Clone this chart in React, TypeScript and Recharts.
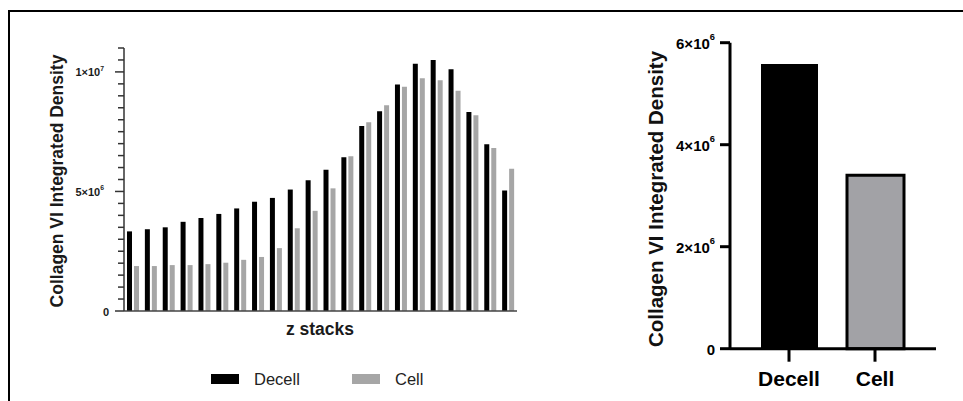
import React from 'react';
import { BarChart, Bar, XAxis, YAxis, Legend, Cell } from 'recharts';

const FONT = '"Liberation Sans", Arial, Helvetica, sans-serif';

const zStacks = ['1', '2', '3', '4', '5', '6', '7', '8', '9', '10', '11', '12', '13', '14', '15', '16', '17', '18', '19', '20', '21', '22'];
const decellValues = [3.33e6, 3.42e6, 3.5e6, 3.73e6, 3.89e6, 4.06e6, 4.29e6, 4.57e6, 4.73e6, 5.08e6, 5.47e6, 5.91e6, 6.43e6, 7.74e6, 8.35e6, 9.47e6, 10.34e6, 10.5e6, 10.11e6, 8.32e6, 6.97e6, 5.04e6];
const cellValues = [1.88e6, 1.88e6, 1.92e6, 1.92e6, 1.96e6, 2.02e6, 2.14e6, 2.26e6, 2.63e6, 3.46e6, 4.19e6, 5.13e6, 6.47e6, 7.89e6, 8.61e6, 9.38e6, 9.74e6, 9.65e6, 9.21e6, 8.19e6, 6.82e6, 5.95e6];
const leftTicks = [0, 5e5, 1e6, 1.5e6, 2e6, 2.5e6, 3e6, 3.5e6, 4e6, 4.5e6, 5e6, 5.5e6, 6e6, 6.5e6, 7e6, 7.5e6, 8e6, 8.5e6, 9e6, 9.5e6, 1e7, 1.05e7, 1.1e7];
const leftMajorTicks = [0, 5e6, 1e7];

const summaryCategories = ['Decell', 'Cell'];
const summaryValues = [5.58e6, 3.4e6];
const rightTicks = [0, 2e6, 4e6, 6e6];

const seriesNames = ['Decell', 'Cell'];
const seriesColors = ['#000000', '#a6a6a6'];
const summaryFills = ['#000000', '#a2a2a6'];

const zData = zStacks.map((z, i) => ({ z, decell: decellValues[i], cell: cellValues[i] }));
const summaryData = summaryCategories.map((c, i) => ({ name: c, value: summaryValues[i] }));

function sci(v: number): [string, string] {
  if (v === 0) return ['0', ''];
  const e = Math.floor(Math.log10(v) + 1e-9);
  const m = Math.round(v / Math.pow(10, e));
  return [`${m}×10`, `${e}`];
}

const SciText = ({ x, y, v, size, color }: any) => {
  const [main, exp] = sci(v);
  return (
    <text x={x} y={y} textAnchor="end" dominantBaseline="central" fontFamily={FONT} fontWeight="bold" fontSize={size} fill={color}>
      {main}
      {exp && (
        <tspan fontSize={size * 0.62} dy={-size * 0.42}>
          {exp}
        </tspan>
      )}
    </text>
  );
};

const LeftTick = (props: any) => {
  const { x, y, payload } = props;
  const v = payload.value;
  const major = leftMajorTicks.includes(v);
  return (
    <g>
      <line x1={x - (major ? 9 : 6)} x2={x} y1={y} y2={y} stroke="#333" strokeWidth={1.5} />
      {major && <SciText x={v === 0 ? x - 15 : x - 20} y={y + 0.5} v={v} size={11} color="#1a1a1a" />}
    </g>
  );
};

const RightTick = (props: any) => {
  const { x, y, payload } = props;
  return <SciText x={x} y={y + 0.5} v={payload.value} size={15} color="#000" />;
};

const LegendContent = (props: any) => {
  const payload = [...(props.payload || [])].sort(
    (a: any, b: any) => seriesNames.indexOf(a.value) - seriesNames.indexOf(b.value)
  );
  const xs = [211, 352];
  return (
    <svg width={560} height={30} style={{ display: 'block' }}>
      {payload.map((p: any, i: number) => (
        <g key={i}>
          <rect x={xs[i]} y={9} width={28} height={10} fill={p.color} />
          <text x={xs[i] + 43} y={20} fontFamily={FONT} fontSize={16.5} fill="#222">
            {p.value}
          </text>
        </g>
      ))}
    </svg>
  );
};

export default function App() {
  return (
    <div style={{ position: 'absolute', left: 0, top: 0, width: 963, height: 401, overflow: 'hidden', background: '#fff', fontFamily: FONT }}>
      <div style={{ position: 'absolute', left: 8, top: 10, width: 955, height: 391, borderTop: '2px solid #000', borderLeft: '2px solid #000' }} />

      <div style={{ position: 'absolute', left: 0, top: 0 }}>
        <BarChart width={560} height={401} data={zData} margin={{ top: 48, right: 43, left: 64, bottom: 30 }} barSize={5} barGap={2}>
          <XAxis
            dataKey="z"
            height={30}
            tick={false}
            tickLine={false}
            axisLine={{ stroke: '#444', strokeWidth: 1.5 }}
            label={() => (
              <text x={320} y={335} textAnchor="middle" fontFamily={FONT} fontWeight="bold" fontSize={17.5} fill="#1a1a1a">
                z stacks
              </text>
            )}
          />
          <YAxis
            width={60}
            domain={[0, 1.1e7]}
            ticks={leftTicks}
            interval={0}
            tickSize={0}
            tickMargin={0}
            tickLine={false}
            tick={<LeftTick />}
            axisLine={{ stroke: '#333', strokeWidth: 1.5 }}
            label={() => (
              <text x={57} y={181} transform="rotate(-90 57 181)" textAnchor="middle" dominantBaseline="central" fontFamily={FONT} fontWeight="bold" fontSize={17.5} fill="#1a1a1a">
                Collagen VI Integrated Density
              </text>
            )}
          />
          <Legend content={<LegendContent />} wrapperStyle={{ position: 'absolute', left: 0, top: 365, width: 560, height: 30 }} />
          <Bar dataKey="decell" name={seriesNames[0]} fill={seriesColors[0]} isAnimationActive={false} />
          <Bar dataKey="cell" name={seriesNames[1]} fill={seriesColors[1]} isAnimationActive={false} />
        </BarChart>
      </div>

      <div style={{ position: 'absolute', left: 600, top: 0 }}>
        <BarChart width={363} height={401} data={summaryData} margin={{ top: 42.7, right: 27, left: 70, bottom: 22.3 }} barSize={57}>
          <XAxis
            dataKey="name"
            height={30}
            padding={{ left: 16, right: 18 }}
            interval={0}
            tickSize={13}
            tickMargin={9}
            tickLine={{ stroke: '#000', strokeWidth: 3 }}
            axisLine={{ stroke: '#000', strokeWidth: 3 }}
            tick={{ fill: '#000', fontSize: 21, fontWeight: 'bold', fontFamily: FONT }}
          />
          <YAxis
            width={60}
            domain={[0, 6e6]}
            ticks={rightTicks}
            interval={0}
            tickSize={10}
            tickMargin={5}
            tickLine={{ stroke: '#000', strokeWidth: 3 }}
            axisLine={{ stroke: '#000', strokeWidth: 3 }}
            tick={<RightTick />}
            label={() => (
              <text x={55} y={199} transform="rotate(-90 55 199)" textAnchor="middle" dominantBaseline="central" fontFamily={FONT} fontWeight="bold" fontSize={20.5} fill="#111">
                Collagen VI Integrated Density
              </text>
            )}
          />
          <Bar dataKey="value" isAnimationActive={false}>
            {summaryData.map((d, i) => (
              <Cell key={d.name} fill={summaryFills[i]} stroke="#000" strokeWidth={i === 0 ? 0 : 3} />
            ))}
          </Bar>
        </BarChart>
      </div>
    </div>
  );
}
